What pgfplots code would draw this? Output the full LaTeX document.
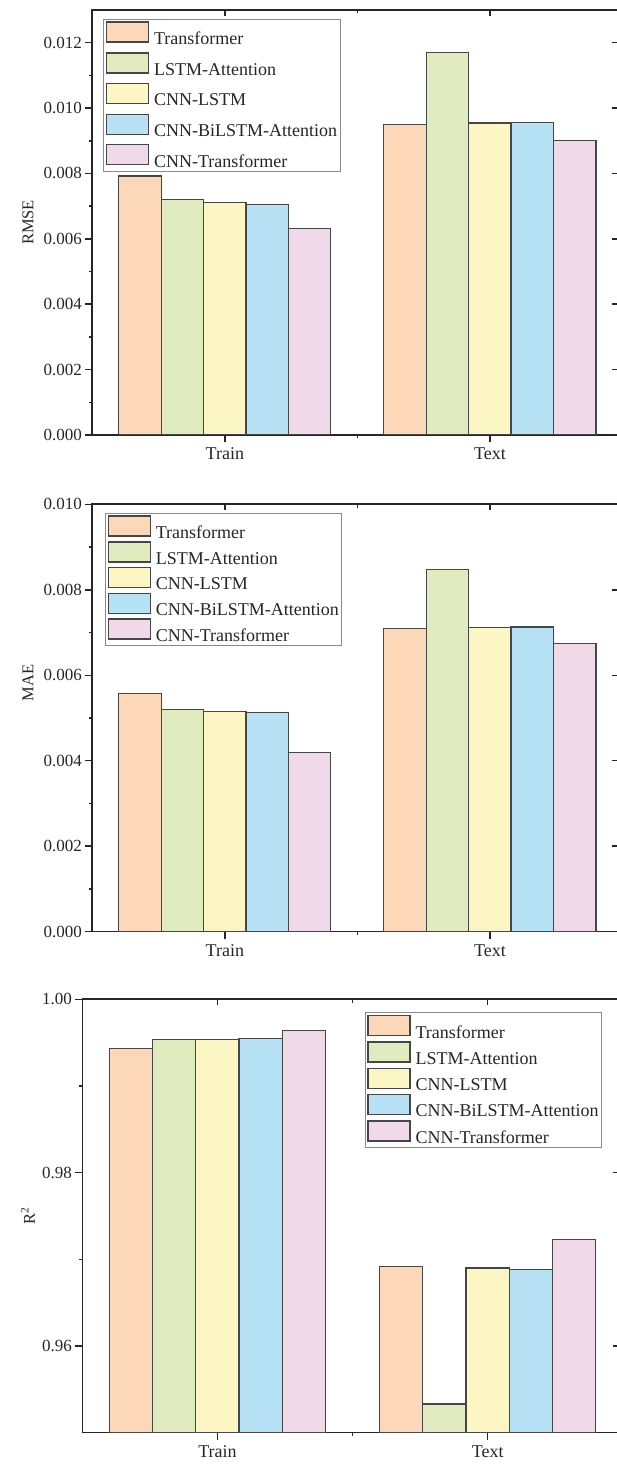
\documentclass[border=0pt]{standalone}
\usepackage{fontspec}
\setmainfont{Liberation Serif}
\usepackage{pgfplots}
\pgfplotsset{compat=1.18}
\definecolor{cA}{HTML}{FCD8B8}
\definecolor{cB}{HTML}{E0EBC0}
\definecolor{cC}{HTML}{FBF6C4}
\definecolor{cD}{HTML}{B7E2F6}
\definecolor{cE}{HTML}{F0DAEA}
\definecolor{barline}{HTML}{464646}
\definecolor{axl}{HTML}{262626}
\definecolor{legbox}{HTML}{8A8A8A}
\pgfplotsset{
  mylegend/.style={legend image code/.code={\draw[##1,line width=1.3pt] (0pt,-3pt) rectangle (42pt,17pt);}},
  bars/.style={ybar, bar width=0.16, draw=barline, line width=1.2pt, mylegend},
  common/.style={
    scale only axis, width=530.1pt, xmin=0.5, xmax=2.5,
    xtick={1,2}, xticklabels={Train,Text}, minor xtick={1.5},
    tick align=outside, tickpos=left, major tick length=7pt, minor tick length=3.5pt,
    axis line style={line width=1.6pt, draw=axl},
    every tick/.style={line width=1.5pt, draw=axl},
    /pgf/number format/assume math mode=true,
    xticklabel style={font=\fontsize{18}{18}\selectfont, text=black!85, yshift=-2pt},
    yticklabel style={font=\fontsize{17}{17}\selectfont, text=black!85},
    ylabel style={font=\fontsize{16.5}{16.5}\selectfont, text=black!85, anchor=center},
    legend style={font=\fontsize{18}{18}\selectfont, draw=legbox, line width=1pt,
      inner sep=2pt, nodes={inner sep=1pt, text=black!85}, column sep=4pt},
    legend cell align=left,
    scaled y ticks=false,
    minor y tick num=1,
  }
}
\begin{document}
\begin{tikzpicture}
% ---------- RMSE ----------
\begin{axis}[common, at={(92.3pt,1032pt)}, anchor=south west, height=425pt,
  ymin=0, ymax=0.013, ytick={0,0.002,0.004,0.006,0.008,0.010,0.012},
  yticklabel style={/pgf/number format/fixed, /pgf/number format/fixed zerofill, /pgf/number format/precision=3},
  ylabel={RMSE}, ylabel style={at={(axis description cs:-0.1213,0.5)}},
  legend style={at={(rel axis cs:0.0208,0.9788)}, anchor=north west, row sep=5.2pt},
  after end axis/.code={
    \foreach \xx in {0.25,0.75} \draw[axl,line width=1.5pt] (rel axis cs:\xx,1) -- ++(0,-6pt);
    \draw[axl,line width=1.5pt] (rel axis cs:0.5,1) -- ++(0,-3.5pt);
    \foreach \yy in {0.002,0.004,0.006,0.008,0.010,0.012} \draw[axl,line width=1.5pt] (axis cs:2.5,\yy) -- ++(-10pt,0);
  }]
\addplot[bars, fill=cA, bar shift=-0.32] coordinates {(1,0.00792) (2,0.00950)};
\addplot[bars, fill=cB, bar shift=-0.16] coordinates {(1,0.00720) (2,0.01169)};
\addplot[bars, fill=cC, bar shift=0] coordinates {(1,0.00711) (2,0.00954)};
\addplot[bars, fill=cD, bar shift=0.16] coordinates {(1,0.00704) (2,0.00956)};
\addplot[bars, fill=cE, bar shift=0.32] coordinates {(1,0.00631) (2,0.00901)};
\legend{Transformer,LSTM-Attention,CNN-LSTM,CNN-BiLSTM-Attention,CNN-Transformer}
\end{axis}
% ---------- MAE ----------
\begin{axis}[common, at={(92.3pt,535.3pt)}, anchor=south west, height=427.4pt,
  ymin=0, ymax=0.010, ytick={0,0.002,0.004,0.006,0.008,0.010},
  yticklabel style={/pgf/number format/fixed, /pgf/number format/fixed zerofill, /pgf/number format/precision=3},
  ylabel={MAE}, ylabel style={at={(axis description cs:-0.1213,0.582)}},
  legend style={at={(rel axis cs:0.024,0.9803)}, anchor=north west, row sep=0.3pt},
  after end axis/.code={
    \foreach \xx in {0.25,0.75} \draw[axl,line width=1.5pt] (rel axis cs:\xx,1) -- ++(0,-6pt);
    \draw[axl,line width=1.5pt] (rel axis cs:0.5,1) -- ++(0,-3.5pt);
    \foreach \yy in {0.002,0.004,0.006,0.008} \draw[axl,line width=1.5pt] (axis cs:2.5,\yy) -- ++(-10pt,0);
  }]
\addplot[bars, fill=cA, bar shift=-0.32] coordinates {(1,0.00558) (2,0.00709)};
\addplot[bars, fill=cB, bar shift=-0.16] coordinates {(1,0.00519) (2,0.00848)};
\addplot[bars, fill=cC, bar shift=0] coordinates {(1,0.00515) (2,0.00711)};
\addplot[bars, fill=cD, bar shift=0.16] coordinates {(1,0.00512) (2,0.00713)};
\addplot[bars, fill=cE, bar shift=0.32] coordinates {(1,0.00420) (2,0.00674)};
\legend{Transformer,LSTM-Attention,CNN-LSTM,CNN-BiLSTM-Attention,CNN-Transformer}
\end{axis}
% ---------- R2 ----------
\begin{axis}[common, at={(82.4pt,34.3pt)}, anchor=south west, width=540.3pt, height=433.4pt,
  ymin=0.95, ymax=1.00, ytick={0.96,0.98,1.00},
  yticklabel style={/pgf/number format/fixed, /pgf/number format/fixed zerofill, /pgf/number format/precision=2},
  ylabel={R\textsuperscript{2}}, ylabel style={at={(axis description cs:-0.1007,0.5)}},
  legend style={at={(rel axis cs:0.9617,0.97)}, anchor=north east, row sep=0.9pt},
  after end axis/.code={
    \foreach \xx in {0.25,0.75} \draw[axl,line width=1.5pt] (rel axis cs:\xx,1) -- ++(0,-6pt);
    \draw[axl,line width=1.5pt] (rel axis cs:0.5,1) -- ++(0,-3.5pt);
    \foreach \yy in {0.96,0.98} \draw[axl,line width=1.5pt] (axis cs:2.5,\yy) -- ++(-10pt,0);
  }]
\addplot[bars, fill=cA, bar shift=-0.32] coordinates {(1,0.9943) (2,0.9692)};
\addplot[bars, fill=cB, bar shift=-0.16] coordinates {(1,0.9954) (2,0.9533)};
\addplot[bars, fill=cC, bar shift=0] coordinates {(1,0.9954) (2,0.9690)};
\addplot[bars, fill=cD, bar shift=0.16] coordinates {(1,0.9955) (2,0.9688)};
\addplot[bars, fill=cE, bar shift=0.32] coordinates {(1,0.9964) (2,0.9723)};
\legend{Transformer,LSTM-Attention,CNN-LSTM,CNN-BiLSTM-Attention,CNN-Transformer}
\end{axis}
\pgfresetboundingbox
\path[use as bounding box] (0pt,0pt) rectangle (616pt,1467pt);
\end{tikzpicture}
\end{document}
